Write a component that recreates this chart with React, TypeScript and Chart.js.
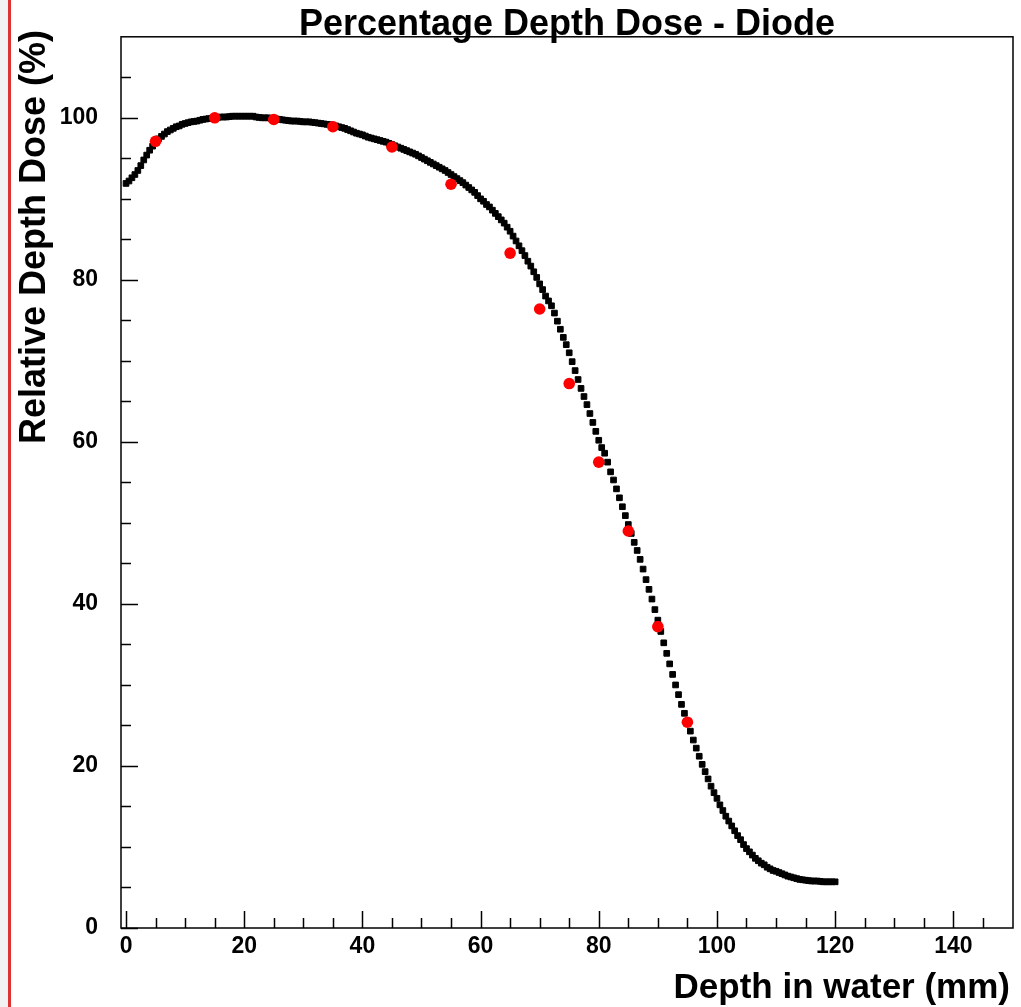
import React, { useEffect, useRef } from "react";
import { Chart, registerables } from "chart.js";

Chart.register(...registerables);

// Measured (diode) points
const measuredDepth = [5, 15, 25, 35, 45, 55, 65, 70, 75, 80, 85, 90, 95];
const measuredDose = [97.1, 100.0, 99.8, 98.9, 96.4, 91.8, 83.3, 76.4, 67.2, 57.5, 49.0, 37.2, 25.4];

// Reference curve: depth (mm)
const curveDepth = [
  0, 0.5, 1, 1.5, 2, 2.5, 3, 3.5, 4, 4.5, 5, 5.5, 6, 6.5, 7, 7.5, 8, 8.5, 9, 9.5,
  10, 10.5, 11, 11.5, 12, 12.5, 13, 13.5, 14, 14.5, 15, 15.5, 16, 16.5, 17, 17.5, 18, 18.5, 19, 19.5,
  20, 20.5, 21, 21.5, 22, 22.5, 23, 23.5, 24, 24.5, 25, 25.5, 26, 26.5, 27, 27.5, 28, 28.5, 29, 29.5,
  30, 30.5, 31, 31.5, 32, 32.5, 33, 33.5, 34, 34.5, 35, 35.5, 36, 36.5, 37, 37.5, 38, 38.5, 39, 39.5,
  40, 40.5, 41, 41.5, 42, 42.5, 43, 43.5, 44, 44.5, 45, 45.5, 46, 46.5, 47, 47.5, 48, 48.5, 49, 49.5,
  50, 50.5, 51, 51.5, 52, 52.5, 53, 53.5, 54, 54.5, 55, 55.5, 56, 56.5, 57, 57.5, 58, 58.5, 59, 59.5,
  60, 60.5, 61, 61.5, 62, 62.5, 63, 63.5, 64, 64.5, 65, 65.5, 66, 66.5, 67, 67.5, 68, 68.5, 69, 69.5,
  70, 70.5, 71, 71.5, 72, 72.5, 73, 73.5, 74, 74.5, 75, 75.5, 76, 76.5, 77, 77.5, 78, 78.5, 79, 79.5,
  80, 80.5, 81, 81.5, 82, 82.5, 83, 83.5, 84, 84.5, 85, 85.5, 86, 86.5, 87, 87.5, 88, 88.5, 89, 89.5,
  90, 90.5, 91, 91.5, 92, 92.5, 93, 93.5, 94, 94.5, 95, 95.5, 96, 96.5, 97, 97.5, 98, 98.5, 99, 99.5,
  100, 100.5, 101, 101.5, 102, 102.5, 103, 103.5, 104, 104.5, 105, 105.5, 106, 106.5, 107, 107.5, 108, 108.5, 109, 109.5,
  110, 110.5, 111, 111.5, 112, 112.5, 113, 113.5, 114, 114.5, 115, 115.5, 116, 116.5, 117, 117.5, 118, 118.5, 119, 119.5, 120,
];
// Reference curve: relative dose (%)
const curveDose = [
  91.9, 92.2, 92.6, 93.0, 93.5, 94.1, 94.8, 95.4, 96.0, 96.5, 97.0, 97.4, 97.7, 98.0, 98.3, 98.5, 98.7, 98.9, 99.0, 99.2,
  99.3, 99.4, 99.5, 99.55, 99.6, 99.7, 99.8, 99.85, 99.9, 99.95, 100.0, 100.05, 100.1, 100.1, 100.1, 100.15, 100.2, 100.2, 100.2, 100.2,
  100.2, 100.2, 100.2, 100.2, 100.1, 100.05, 100.0, 100.0, 100.0, 99.95, 99.9, 99.85, 99.8, 99.75, 99.7, 99.65, 99.6, 99.6, 99.6, 99.55,
  99.5, 99.5, 99.5, 99.45, 99.4, 99.35, 99.3, 99.25, 99.2, 99.15, 99.1, 99.0, 98.9, 98.8, 98.7, 98.55, 98.4, 98.25, 98.1, 98.0,
  97.9, 97.75, 97.6, 97.5, 97.4, 97.3, 97.2, 97.1, 97.0, 96.85, 96.7, 96.55, 96.4, 96.25, 96.1, 95.95, 95.8, 95.65, 95.5, 95.3,
  95.1, 94.9, 94.7, 94.5, 94.3, 94.1, 93.9, 93.7, 93.5, 93.25, 93.0, 92.75, 92.5, 92.25, 92.0, 91.7, 91.4, 91.1, 90.8, 90.4,
  90.0, 89.7, 89.3, 89.0, 88.6, 88.2, 87.8, 87.4, 87.0, 86.5, 86.0, 85.4, 84.8, 84.2, 83.6, 83.0, 82.3, 81.7, 81.0, 80.3,
  79.5, 78.8, 78.0, 77.4, 76.8, 75.9, 74.9, 73.9, 72.9, 72.0, 71.0, 69.9, 68.8, 67.7, 66.6, 65.6, 64.6, 63.5, 62.4, 61.3,
  60.2, 59.3, 58.6, 57.5, 56.3, 55.3, 54.2, 53.1, 52.0, 50.9, 49.8, 48.7, 47.6, 46.6, 45.5, 44.3, 43.0, 41.8, 40.6, 39.3,
  38.0, 36.6, 35.2, 33.9, 32.6, 31.3, 30.0, 28.8, 27.6, 26.5, 25.4, 24.3, 23.2, 22.2, 21.2, 20.2, 19.3, 18.4, 17.5, 16.7,
  16.0, 15.2, 14.5, 13.8, 13.2, 12.6, 12.0, 11.4, 10.9, 10.3, 9.8, 9.4, 9.0, 8.6, 8.3, 8.0, 7.8, 7.5, 7.3, 7.1,
  7.0, 6.85, 6.7, 6.55, 6.4, 6.3, 6.2, 6.1, 6.0, 5.95, 5.9, 5.85, 5.8, 5.8, 5.8, 5.75, 5.7, 5.7, 5.7, 5.7, 5.7,
];

const xTickLabels = [0, 20, 40, 60, 80, 100, 120, 140];
const yTickLabels = [0, 20, 40, 60, 80, 100];

const titleText = "Percentage Depth Dose - Diode";
const xTitle = "Depth in water (mm)";
const yTitle = "Relative Depth Dose (%)";

const FONT = "'Liberation Sans', Arial, Helvetica, sans-serif";

const framePlugin = {
  id: "rootFrame",
  beforeDraw(chart: any) {
    const ctx = chart.ctx;
    ctx.save();
    ctx.fillStyle = "#ffffff";
    ctx.fillRect(0, 0, chart.width, chart.height);
    ctx.fillStyle = "#f2f2f2";
    ctx.fillRect(0, 0, 8, chart.height);
    ctx.fillStyle = "#dd3333";
    ctx.fillRect(8, 0, 3, chart.height);
    ctx.restore();
  },
  afterDraw(chart: any) {
    const ctx = chart.ctx;
    const a = chart.chartArea;
    const xs = chart.scales.x;
    const ys = chart.scales.y;
    ctx.save();
    // frame
    ctx.strokeStyle = "#000";
    ctx.lineWidth = 1.5;
    ctx.strokeRect(a.left, a.top, a.right - a.left, a.bottom - a.top);
    // inward ticks
    ctx.beginPath();
    for (let v = 0; v <= 150; v += 5) {
      const px = Math.round(xs.getPixelForValue(v)) + 0.5;
      if (px > a.right - 1) continue;
      const len = v % 20 === 0 ? 17 : 10;
      ctx.moveTo(px, a.bottom);
      ctx.lineTo(px, a.bottom - len);
    }
    for (let v = 0; v <= 110; v += 5) {
      const py = Math.round(ys.getPixelForValue(v)) + 0.5;
      if (py < a.top + 1) continue;
      const len = v % 20 === 0 ? 17 : 10;
      ctx.moveTo(a.left, py);
      ctx.lineTo(a.left + len, py);
    }
    ctx.stroke();
    // titles
    ctx.fillStyle = "#000";
    ctx.font = `bold 36px ${FONT}`;
    ctx.textAlign = "center";
    ctx.textBaseline = "alphabetic";
    ctx.fillText(titleText, (a.left + a.right) / 2, 35);
    ctx.font = `bold 35px ${FONT}`;
    ctx.textAlign = "right";
    ctx.fillText(xTitle, 1010, 998);
    ctx.font = `bold 36px ${FONT}`;
    ctx.translate(45, 30);
    ctx.rotate(-Math.PI / 2);
    ctx.textAlign = "right";
    ctx.fillText(yTitle, 0, 0);
    ctx.restore();
  },
};

export default function App() {
  const ref = useRef<HTMLCanvasElement | null>(null);
  useEffect(() => {
    if (!ref.current) return;
    const chart = new Chart(ref.current, {
      type: "scatter",
      data: {
        datasets: [
          {
            label: "Diode",
            data: measuredDepth.map((x, i) => ({ x, y: measuredDose[i] })),
            backgroundColor: "#ff0000",
            borderColor: "#ff0000",
            pointStyle: "circle",
            pointRadius: 5.8,
            borderWidth: 0,
            showLine: false,
          },
          {
            label: "Reference",
            data: curveDepth.map((x, i) => ({ x, y: curveDose[i] })),
            backgroundColor: "#000000",
            borderColor: "#000000",
            pointStyle: "rect",
            pointRadius: 4,
            borderWidth: 1,
            showLine: false,
          },
        ],
      },
      options: {
        responsive: false,
        animation: false,
        devicePixelRatio: 1,
        layout: { padding: { left: 0, top: 36, right: 8, bottom: 0 } },
        plugins: {
          legend: { display: false },
          tooltip: { enabled: false },
          title: { display: false },
        },
        scales: {
          x: {
            type: "linear",
            min: -0.85,
            max: 150.1,
            grid: { display: false, drawTicks: false },
            border: { display: false },
            afterBuildTicks: (s: any) => {
              s.ticks = xTickLabels.map((v) => ({ value: v }));
            },
            afterFit: (s: any) => {
              s.height = 79;
            },
            ticks: {
              padding: 5,
              color: "#000",
              font: { family: FONT, size: 23, weight: "bold" },
              maxRotation: 0,
              autoSkip: false,
            },
          },
          y: {
            type: "linear",
            min: 0,
            max: 110,
            grid: { display: false, drawTicks: false },
            border: { display: false },
            afterBuildTicks: (s: any) => {
              s.ticks = yTickLabels.map((v) => ({ value: v }));
            },
            afterFit: (s: any) => {
              s.width = 121;
            },
            ticks: {
              padding: 23,
              color: "#000",
              font: { family: FONT, size: 23, weight: "bold" },
              autoSkip: false,
            },
          },
        },
      },
      plugins: [framePlugin],
    });
    return () => chart.destroy();
  }, []);
  return (
    <div style={{ position: "fixed", left: 0, top: 0, width: 1021, height: 1007, background: "#fff" }}>
      <canvas ref={ref} width={1021} height={1007} style={{ display: "block", width: 1021, height: 1007 }} />
    </div>
  );
}
